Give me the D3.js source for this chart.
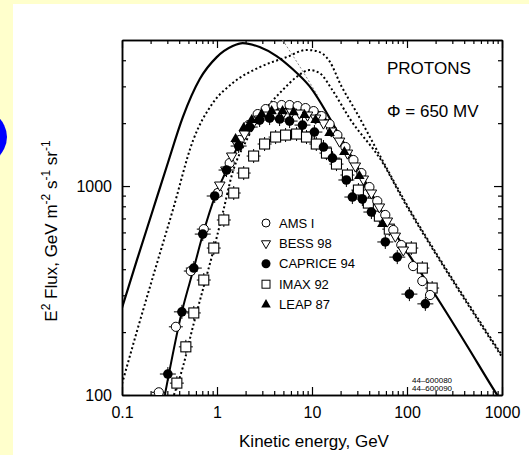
<!DOCTYPE html>
<html>
<head>
<meta charset="utf-8">
<script src="https://cdn.jsdelivr.net/npm/d3@7"></script>
<style>
  body { margin: 0; background: #ffffcc; }
  svg { display: block; font-family: "Liberation Sans", Arial, sans-serif; }
</style>
</head>
<body>
<svg id="chart" width="529" height="455"></svg>
<script>
// ---- data (kinetic energy in GeV, E^2 flux) ----
const xTickValues = [0.1, 1, 10, 100, 1000];
const xTickLabels = ['0.1', '1', '10', '100', '1000'];
const yTickValues = [100, 1000];
const yTickLabels = ['100', '1000'];

// interstellar-like solid curve (peaks near 2 GeV)
const lisSolidE = [0.1, 0.1437, 0.2065, 0.2969, 0.4369, 0.659, 0.994, 1.464, 1.864, 2.81, 4.24, 6.24, 9.41, 18.1, 34.7, 55.0, 83, 184, 419, 865, 1000];
const lisSolidF = [261, 443, 743, 1247, 2138, 3251, 4140, 4677, 4831, 4624, 4188, 3631, 3006, 1854, 1091, 743, 552, 318, 175, 102, 92];

// modulated solid curve through the data
const modSolidE = [0.2827, 0.4266, 0.570, 0.7261, 0.947, 1.236, 1.733, 2.615, 4.24, 7.39, 11.99, 18.1, 29.3, 41.1, 55.0];
const modSolidF = [100, 250, 405, 609, 886, 1167, 1607, 2070, 2311, 2362, 2260, 1698, 1194, 896, 743];

// upper dotted curve
const dotUpperE = [0.1, 0.1437, 0.2221, 0.343, 0.5564, 0.9025, 1.464, 2.81, 5.40, 8.75, 11.15, 15.27, 20.4, 29.3, 55.0, 93.5, 218, 451, 1000];
const dotUpperF = [113, 202, 396, 768, 1641, 2495, 3112, 3707, 4140, 4478, 4426, 3963, 3006, 2260, 1330, 857, 453, 270, 155];

// lower dotted curve
const dotLowerE = [0.352, 0.437, 0.556, 0.708, 0.902, 1.15, 1.464, 2.05, 3.02, 4.90, 6.87, 9.41, 12.0, 16.4, 24.8, 55.0, 93.5, 218, 451, 1000];
const dotLowerF = [100, 136, 211, 318, 478, 743, 1167, 1660, 2234, 2877, 3326, 3590, 3475, 2877, 2113, 1300, 840, 445, 265, 152];

// thin grey line near the top
const greyE = [4.90, 7.39, 11.4];
const greyF = [5000, 3750, 2723];

const amsE = [0.244, 0.369, 0.530, 0.726, 1.02, 1.36, 1.73, 2.15, 2.68, 3.25, 3.94, 4.79, 5.81, 7.05, 8.55, 10.4, 12.6, 15.3, 18.5, 22.5, 27.3, 33.1, 40.2, 48.7, 59.1, 71.8, 87.1, 116, 145, 175];
const amsF = [103, 212, 392, 622, 926, 1288, 1660, 1958, 2210, 2335, 2413, 2441, 2441, 2413, 2361, 2284, 2162, 1980, 1754, 1537, 1332, 1154, 989, 847, 727, 616, 522, 414, 351, 301];

const bessE = [1.07, 1.24, 1.43, 1.65, 1.95, 2.32, 2.81, 3.41, 4.14, 5.02, 6.09, 7.39, 8.97, 10.9, 13.2, 16.0, 19.5, 23.6, 28.6, 34.7, 42.2, 51.2, 62.1, 75.3, 91.4];
const bessF = [1011, 1193, 1392, 1572, 1774, 1958, 2093, 2186, 2234, 2259, 2259, 2234, 2186, 2115, 2002, 1834, 1641, 1438, 1247, 1080, 926, 794, 680, 576, 494];

const capriceE = [0.304, 0.427, 0.570, 0.708, 0.946, 1.26, 1.69, 2.21, 2.81, 3.58, 4.56, 5.81, 7.94, 10.6, 13.2, 16.4, 23.0, 26.6, 33.9, 42.2, 59.1, 79.0, 106, 156];
const capriceF = [126, 250, 405, 589, 896, 1193, 1554, 1916, 2070, 2115, 2093, 2046, 1958, 1813, 1537, 1361, 1069, 886, 867, 751, 540, 457, 304, 273];

const imaxE = [0.378, 0.470, 0.570, 0.726, 0.925, 1.18, 1.50, 1.91, 2.43, 3.17, 4.14, 5.27, 6.88, 8.75, 11.1, 14.2, 18.1, 23.6, 30.8, 39.2, 51.2, 65.1, 111, 145, 184];
const imaxF = [114, 170, 247, 355, 505, 688, 926, 1154, 1392, 1589, 1716, 1754, 1774, 1716, 1589, 1438, 1274, 1129, 957, 829, 718, 622, 505, 405, 325];

const leapE = [1.57, 1.91, 2.32, 2.95, 3.76, 4.90, 6.39, 8.34, 10.9, 15.3, 21.9, 31.5, 55.0];
const leapF = [1679, 1895, 2070, 2210, 2284, 2284, 2259, 2186, 2070, 1795, 1455, 1117, 658];

const legendLabels = ['AMS I', 'BESS 98', 'CAPRICE 94', 'IMAX 92', 'LEAP 87'];

// ---- layout ----
const W = 529, H = 455;
const plot = { left: 122, right: 502, top: 40, bottom: 395 };

const svg = d3.select('#chart');

// page background
svg.append('rect').attr('width', W).attr('height', H).attr('fill', '#ffffcc');
svg.append('rect').attr('x', 13).attr('y', 4).attr('width', W - 13).attr('height', H - 4).attr('fill', '#ffffff');
// edge of a blue disc peeking in on the left
svg.append('ellipse')
    .attr('cx', -30).attr('cy', 137).attr('rx', 37).attr('ry', 31)
    .attr('fill', '#0000ff');

const x = d3.scaleLog().domain([0.1, 1000]).range([plot.left, plot.right]);
const y = d3.scaleLog().domain([100, 5000]).range([plot.bottom, plot.top]);

svg.append('clipPath').attr('id', 'clip')
    .append('rect')
    .attr('x', plot.left).attr('y', plot.top)
    .attr('width', plot.right - plot.left).attr('height', plot.bottom - plot.top);

// minor tick values
const xMinor = [];
[0.1, 1, 10, 100].forEach(d => { for (let k = 2; k <= 9; k++) xMinor.push(d * k); });
const yMinor = [200, 300, 400, 500, 600, 700, 800, 900, 2000, 3000, 4000];

function styleAxis(g) {
    g.selectAll('path.domain').attr('stroke', '#000').attr('stroke-width', 1.5);
    g.selectAll('.tick line').attr('stroke', '#000').attr('stroke-width', 1.2);
    g.selectAll('.tick text').attr('font-size', 16).attr('fill', '#000')
        .attr('font-family', '"Liberation Sans", Arial, sans-serif');
}

// bottom
svg.append('g').attr('transform', `translate(0,${plot.bottom})`)
    .call(d3.axisBottom(x).tickValues(xTickValues).tickSize(-8).tickSizeOuter(0).tickPadding(12)
        .tickFormat((d, i) => xTickLabels[i]))
    .call(styleAxis);
svg.append('g').attr('transform', `translate(0,${plot.bottom})`)
    .call(d3.axisBottom(x).tickValues(xMinor).tickSize(-4).tickSizeOuter(0).tickFormat(''))
    .call(styleAxis);
// top
svg.append('g').attr('transform', `translate(0,${plot.top})`)
    .call(d3.axisTop(x).tickValues(xTickValues).tickSize(-8).tickSizeOuter(0).tickFormat(''))
    .call(styleAxis);
svg.append('g').attr('transform', `translate(0,${plot.top})`)
    .call(d3.axisTop(x).tickValues(xMinor).tickSize(-4).tickSizeOuter(0).tickFormat(''))
    .call(styleAxis);
// left
svg.append('g').attr('transform', `translate(${plot.left},0)`)
    .call(d3.axisLeft(y).tickValues(yTickValues).tickSize(-8).tickSizeOuter(0).tickPadding(10)
        .tickFormat((d, i) => yTickLabels[i]))
    .call(styleAxis);
svg.append('g').attr('transform', `translate(${plot.left},0)`)
    .call(d3.axisLeft(y).tickValues(yMinor).tickSize(-4).tickSizeOuter(0).tickFormat(''))
    .call(styleAxis);
// right
svg.append('g').attr('transform', `translate(${plot.right},0)`)
    .call(d3.axisRight(y).tickValues(yTickValues).tickSize(-8).tickSizeOuter(0).tickFormat(''))
    .call(styleAxis);
svg.append('g').attr('transform', `translate(${plot.right},0)`)
    .call(d3.axisRight(y).tickValues(yMinor).tickSize(-4).tickSizeOuter(0).tickFormat(''))
    .call(styleAxis);

// ---- curves ----
const line = d3.line()
    .x(d => x(d[0]))
    .y(d => y(d[1]))
    .curve(d3.curveMonotoneX);

const curves = svg.append('g').attr('clip-path', 'url(#clip)');

function drawCurve(E, F, stroke, width, dash) {
    curves.append('path')
        .datum(E.map((e, i) => [e, F[i]]))
        .attr('d', line)
        .attr('fill', 'none')
        .attr('stroke', stroke)
        .attr('stroke-width', width)
        .attr('stroke-dasharray', dash || null);
}

drawCurve(greyE, greyF, '#888', 1, '2,2');
drawCurve(dotUpperE, dotUpperF, '#000', 2, '2,2.5');
drawCurve(dotLowerE, dotLowerF, '#000', 2, '2,2.5');
drawCurve(lisSolidE, lisSolidF, '#000', 2.2);
drawCurve(modSolidE, modSolidF, '#000', 2);

// ---- data points ----
const marks = svg.append('g').attr('clip-path', 'url(#clip)');

function pairs(E, F) { return E.map((e, i) => ({ e, f: F[i] })); }

function errorBars(data, hx, hy) {
    const g = marks.append('g').attr('stroke', '#000').attr('stroke-width', 1);
    g.selectAll('line.h').data(data).join('line')
        .attr('x1', d => x(d.e) - hx).attr('x2', d => x(d.e) + hx)
        .attr('y1', d => y(d.f)).attr('y2', d => y(d.f));
    if (hy > 0) {
        g.selectAll('line.v').data(data).join('line')
            .attr('x1', d => x(d.e)).attr('x2', d => x(d.e))
            .attr('y1', d => y(d.f) - hy).attr('y2', d => y(d.f) + hy);
    }
}

const imax = pairs(imaxE, imaxF);
const ams = pairs(amsE, amsF);
const bess = pairs(bessE, bessF);
const caprice = pairs(capriceE, capriceF);
const leap = pairs(leapE, leapF);

errorBars(imax, 7, 7);
errorBars(caprice, 8, 7);
errorBars(ams.filter(d => d.e < 1), 7, 0);

marks.append('g').selectAll('rect').data(imax).join('rect')
    .attr('x', d => x(d.e) - 5).attr('y', d => y(d.f) - 5)
    .attr('width', 10).attr('height', 10)
    .attr('fill', '#fff').attr('stroke', '#000').attr('stroke-width', 1.1);

marks.append('g').selectAll('circle').data(ams).join('circle')
    .attr('cx', d => x(d.e)).attr('cy', d => y(d.f)).attr('r', 4.6)
    .attr('fill', '#fff').attr('stroke', '#000').attr('stroke-width', 1);

const triDown = d3.symbol(d3.symbolTriangle, 48);
marks.append('g').selectAll('path').data(bess).join('path')
    .attr('d', triDown)
    .attr('transform', d => `translate(${x(d.e)},${y(d.f)}) rotate(180)`)
    .attr('fill', '#fff').attr('stroke', '#000').attr('stroke-width', 1);

marks.append('g').selectAll('circle').data(caprice).join('circle')
    .attr('cx', d => x(d.e)).attr('cy', d => y(d.f)).attr('r', 4.8)
    .attr('fill', '#000');

marks.append('g').selectAll('path').data(leap).join('path')
    .attr('d', d3.symbol(d3.symbolTriangle, 48))
    .attr('transform', d => `translate(${x(d.e)},${y(d.f)})`)
    .attr('fill', '#000');

// ---- legend ----
const legend = svg.append('g').attr('transform', 'translate(266,223)');
const rowH = 20.4;
legendLabels.forEach((label, i) => {
    const row = legend.append('g').attr('transform', `translate(0,${i * rowH})`);
    if (i === 0) row.append('circle').attr('r', 4).attr('fill', '#fff').attr('stroke', '#000');
    if (i === 1) row.append('path').attr('d', d3.symbol(d3.symbolTriangle, 36)).attr('transform', 'rotate(180)')
        .attr('fill', '#fff').attr('stroke', '#000');
    if (i === 2) row.append('circle').attr('r', 4.5).attr('fill', '#000');
    if (i === 3) row.append('rect').attr('x', -4).attr('y', -4).attr('width', 8).attr('height', 8)
        .attr('fill', '#fff').attr('stroke', '#000');
    if (i === 4) row.append('path').attr('d', d3.symbol(d3.symbolTriangle, 40)).attr('fill', '#000');
    row.append('text').attr('x', 13).attr('y', 4.6)
        .attr('font-size', 13).text(label);
});

// ---- annotations ----
svg.append('text').attr('x', 387).attr('y', 74).attr('font-size', 17).text('PROTONS');
svg.append('text').attr('x', 387).attr('y', 117).attr('font-size', 17).text('\u03A6 = 650 MV');
svg.append('text').attr('x', 412).attr('y', 383).attr('font-size', 8).text('44\u2013600080');
svg.append('text').attr('x', 412).attr('y', 391).attr('font-size', 8).text('44\u2013600090');

// axis titles
svg.append('text')
    .attr('x', (plot.left + plot.right) / 2 + 2).attr('y', 447)
    .attr('text-anchor', 'middle').attr('font-size', 17)
    .text('Kinetic energy, GeV');

const yTitle = svg.append('text')
    .attr('transform', 'translate(57,231) rotate(-90)')
    .attr('text-anchor', 'middle').attr('font-size', 17);
yTitle.append('tspan').text('E');
yTitle.append('tspan').attr('dy', -7).attr('font-size', 12).text('2');
yTitle.append('tspan').attr('dy', 7).text(' Flux,  GeV m');
yTitle.append('tspan').attr('dy', -7).attr('font-size', 12).text('-2');
yTitle.append('tspan').attr('dy', 7).text(' s');
yTitle.append('tspan').attr('dy', -7).attr('font-size', 12).text('-1');
yTitle.append('tspan').attr('dy', 7).text(' sr');
yTitle.append('tspan').attr('dy', -7).attr('font-size', 12).text('-1');
</script>
</body>
</html>
